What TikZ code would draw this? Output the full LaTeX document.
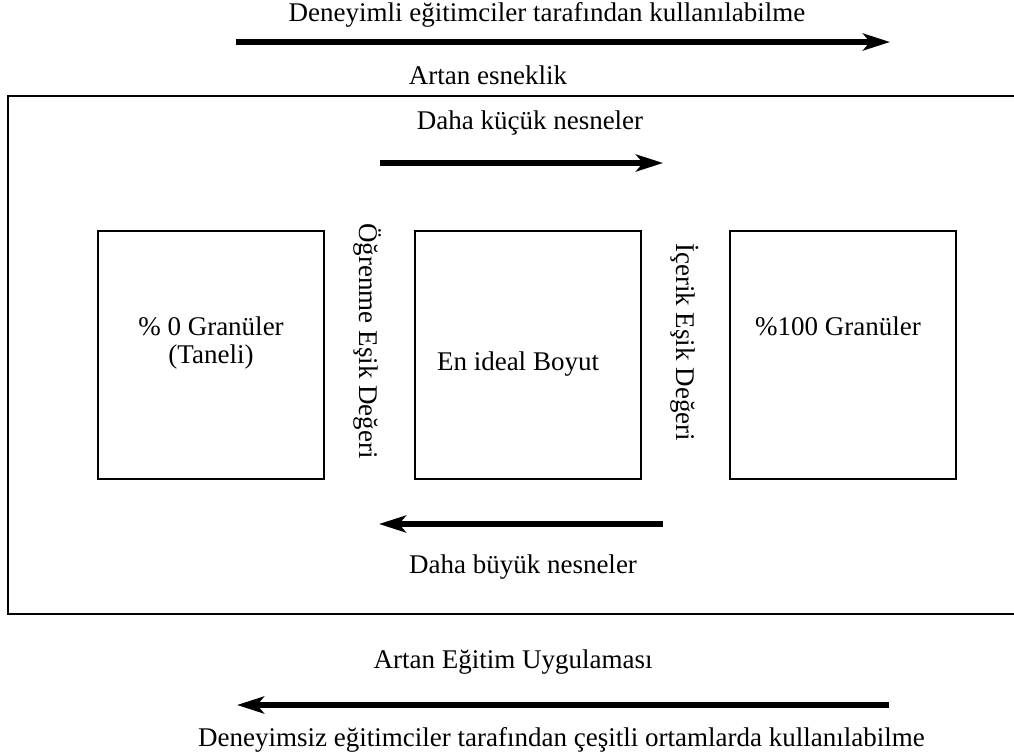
\documentclass[tikz,border=0pt]{standalone}
\usepackage{fontspec}
\setmainfont{Liberation Serif}
\usetikzlibrary{arrows.meta}
\tikzset{
 lbl/.style={font=\fontsize{27}{31}\selectfont, inner sep=0pt},
 gbox/.style={draw, line width=1.5pt, minimum width=226pt, minimum height=248pt, inner sep=0pt},
 bigarr/.style={line width=5.5pt, -{Stealth[length=27pt,width=17pt,inset=7pt]}}
}
\begin{document}
\begin{tikzpicture}[x=1pt,y=-1pt]
 \useasboundingbox (0,0) rectangle (1014,755);
 % top arrow
 \node[lbl] (deneyimli) at (547,15) {Deneyimli eğitimciler tarafından kullanılabilme};
 \coordinate (ta1) at (236,42);
 \coordinate (ta2) at (890,42);
 \draw[bigarr] (ta1) -- (ta2);
 \node[lbl] (esneklik) at (488,75) {Artan esneklik};
 % frame
 \draw[line width=1.5pt] (1016,96) -- (8,96) -- (8,614) -- (1016,614);
 \node[lbl] (kucuk) at (530,123) {Daha küçük nesneler};
 \coordinate (ka1) at (380,163);
 \coordinate (ka2) at (663,163);
 \draw[bigarr] (ka1) -- (ka2);
 % boxes
 \node[gbox] (sifir) at (211,355) {};
 \node[lbl] (sifirA) at (211,326) {\% 0 Granüler};
 \node[lbl] (sifirB) at (211,357) {(Taneli)};
 \node[gbox] (ideal) at (528,355) {};
 \node[lbl] (idealT) at (518,364) {En ideal Boyut};
 \node[gbox] (yuz) at (843,355) {};
 \node[lbl] (yuzT) at (838,326) {\%100 Granüler};
 \node[lbl,rotate=-90] (ogrenme) at (368,341) {Öğrenme Eşik Değeri};
 \node[lbl,rotate=-90] (icerik) at (685,342) {İçerik Eşik Değeri};
 \coordinate (ba1) at (663,524);
 \coordinate (ba2) at (379,524);
 \draw[bigarr] (ba1) -- (ba2);
 \node[lbl] (buyuk) at (523,567) {Daha büyük nesneler};
 % bottom arrow
 \node[lbl] (uygulama) at (513,662) {Artan Eğitim Uygulaması};
 \coordinate (ua1) at (889,705);
 \coordinate (ua2) at (237,705);
 \draw[bigarr] (ua1) -- (ua2);
 \node[lbl,anchor=west] (deneyimsiz) at (198,740) {Deneyimsiz eğitimciler tarafından çeşitli ortamlarda kullanılabilme};
\end{tikzpicture}
\end{document}
